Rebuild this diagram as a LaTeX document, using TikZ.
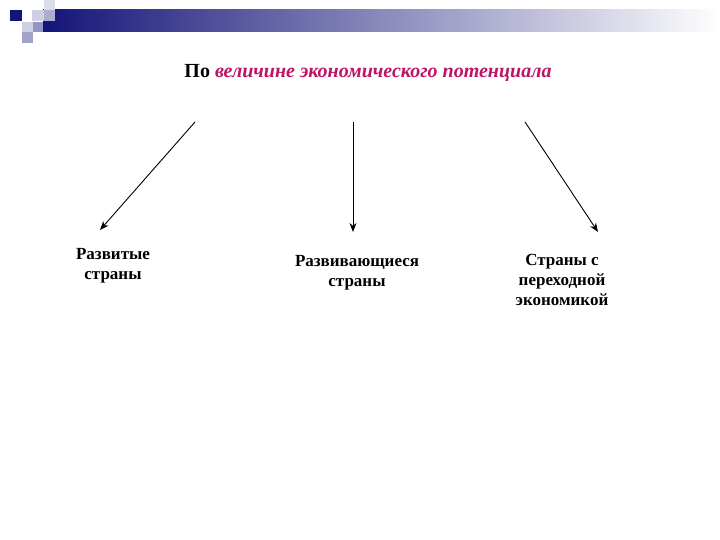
\documentclass[tikz,border=0pt]{standalone}
\usepackage{fontspec}
\setmainfont{Liberation Serif}
\usetikzlibrary{arrows.meta}
\definecolor{navy}{RGB}{20,20,120}
\definecolor{mag}{RGB}{190,20,100}
\begin{document}
\begin{tikzpicture}[x=1pt,y=-1pt,
  lbl/.style={align=center,font=\fontsize{17}{20}\selectfont\bfseries},
  arr/.style={-{Stealth[length=9pt,width=7pt]},line width=0.9pt}]
\useasboundingbox[fill=white] (0,0) rectangle (720,540);
\shade[left color=navy,right color=white] (43,10) rectangle (720,32);
\fill[navy] (10,10) rectangle (22,21);
\fill[navy!20] (32,10) rectangle (44,21);
\fill[navy!15] (44,0) rectangle (55,10);
\fill[navy!35] (44,10) rectangle (55,21);
\fill[navy!20] (22,22) rectangle (33,32);
\fill[navy!45] (33,22) rectangle (43,32);
\fill[navy!40] (22,32) rectangle (33,43);
\node[font=\fontsize{20}{24}\selectfont\bfseries] (t) at (368,73) {По \textcolor{mag}{\itshape величине экономического потенциала}};
\coordinate (a1) at (195,122); \coordinate (a2) at (353,122); \coordinate (a3) at (525,122);
\node[lbl] (n1) at (113,266) {Развитые\\страны};
\node[lbl] (n2) at (357,273) {Развивающиеся\\страны};
\node[lbl] (n3) at (562,280) {Страны с\\переходной\\экономикой};
\coordinate (b1) at (100,230); \coordinate (b2) at (353,232); \coordinate (b3) at (598,232);
\draw[arr] (a1) -- (b1);
\draw[arr] (a2) -- (b2);
\draw[arr] (a3) -- (b3);
\end{tikzpicture}
\end{document}
